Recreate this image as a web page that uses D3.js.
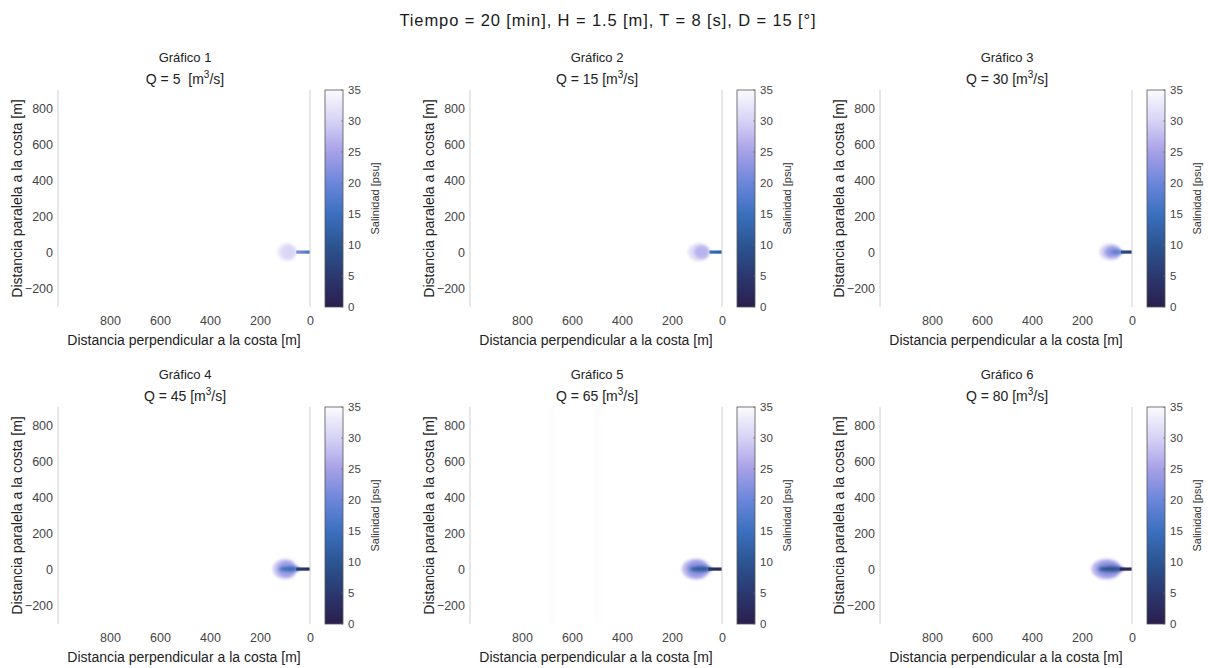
<!DOCTYPE html>
<html><head><meta charset="utf-8">
<script src="https://cdn.jsdelivr.net/npm/d3@7"></script>
<style>
body{margin:0;background:#fff;}
svg{font-family:"Liberation Sans",Arial,sans-serif;}
</style></head><body>
<svg id="c" width="1208" height="668"></svg>
<script>
// ---- data ----
const mainTitle = "Tiempo = 20 [min], H = 1.5 [m], T = 8 [s], D = 15 [°]";
const panelNames = ["Gráfico 1","Gráfico 2","Gráfico 3","Gráfico 4","Gráfico 5","Gráfico 6"];
const caudales = [5, 15, 30, 45, 65, 80];
const qSpacing = ["\u00a0\u00a0", " ", " ", " ", " ", " "];
const xTicks = [800, 600, 400, 200, 0];
const yTicks = [-200, 0, 200, 400, 600, 800];
const cbTicks = [0, 5, 10, 15, 20, 25, 30, 35];
const xDomain = [1008, 0];
const yDomain = [-305, 900];
const salDomain = [0, 35];
// colormap stops (salinity, colour)
const cmapSal = [0, 5, 10, 15, 20, 25, 30, 35];
const cmapCol = ["#2a1e4d", "#2b386f", "#2c5592", "#3b70bf", "#6b86da", "#a6a0e7", "#d6d2f5", "#fbfbfe"];
// plume ellipses per panel: [cx, rx, ry, salinity]  (data units, m)
const plumeBlobs = [
  [[92, 38, 50, 32.3], [86, 28, 36, 30.5]],
  [[92, 44, 50, 31.3], [82, 30, 36, 27]],
  [[86, 44, 46, 30], [78, 32, 32, 24], [62, 26, 12, 18]],
  [[100, 48, 56, 28.5], [94, 36, 42, 24], [80, 42, 14, 14]],
  [[104, 56, 58, 27.5], [100, 42, 44, 23], [84, 46, 15, 11]],
  [[102, 60, 56, 27], [96, 46, 42, 22.5], [82, 52, 15, 9]]
];
// jet from shore (x=0) to jetEnd, salinity at end and at shore
const jetEnd = [55, 50, 45, 55, 55, 50];
const jetSalEnd = [22, 15, 9, 6, 4, 3];
const jetSalShore = [16, 11, 6, 3, 2, 1];
// faint streaks seen in panel 5: [xLeft, xRight, salinity]
const streaks5 = [[690, 670, 34.6], [505, 490, 34.5]];

// ---- layout ----
const svg = d3.select("#c");
const colOff = [0, 412, 822];
const rowOff = [0, 317];
const P = {left: 58, right: 310, top: 90, bottom: 307, cbL: 325, cbR: 343};
const FONT = "Liberation Sans, Arial, sans-serif";

const cScale = d3.scaleLinear().domain(cmapSal).range(cmapCol).interpolate(d3.interpolateRgb).clamp(true);

svg.append("text").attr("x", 608).attr("y", 26).attr("text-anchor", "middle")
  .attr("font-size", 16.5).attr("letter-spacing", 0.9).attr("fill", "#1a1a1a").text(mainTitle);

const defs = svg.append("defs");
defs.append("filter").attr("id", "blur").attr("x", "-50%").attr("y", "-50%").attr("width", "200%").attr("height", "200%")
  .append("feGaussianBlur").attr("stdDeviation", 1.8);
defs.append("filter").attr("id", "blur2").attr("x", "-50%").attr("y", "-50%").attr("width", "200%").attr("height", "200%")
  .append("feGaussianBlur").attr("stdDeviation", 0.6);
// colorbar gradient
const grad = defs.append("linearGradient").attr("id", "cbgrad").attr("x1", 0).attr("y1", 1).attr("x2", 0).attr("y2", 0);
cmapSal.forEach((s, i) => grad.append("stop").attr("offset", s / 35).attr("stop-color", cmapCol[i]));

panelNames.forEach((name, i) => {
  const ox = colOff[i % 3], oy = rowOff[Math.floor(i / 3)];
  const g = svg.append("g").attr("transform", `translate(${ox},${oy})`);
  const x = d3.scaleLinear().domain(xDomain).range([P.left, P.right]);
  const y = d3.scaleLinear().domain(yDomain).range([P.bottom, P.top]);
  const cx = (P.left + P.right) / 2 + 1;

  g.append("text").attr("x", cx).attr("y", 62).attr("text-anchor", "middle").attr("font-size", 13).attr("fill", "#222").text(name);
  const qt = g.append("text").attr("x", cx).attr("y", 84).attr("text-anchor", "middle").attr("font-size", 14).attr("fill", "#222");
  qt.append("tspan").text(`Q = ${caudales[i]}${qSpacing[i]}[m`);
  qt.append("tspan").attr("dy", -6).attr("font-size", 10).text("3");
  qt.append("tspan").attr("dy", 6).text("/s]");

  // plot clip
  const clipId = "clip" + i;
  defs.append("clipPath").attr("id", clipId).append("rect")
    .attr("x", P.left).attr("y", P.top).attr("width", P.right - P.left).attr("height", P.bottom - P.top);
  const plot = g.append("g").attr("clip-path", `url(#${clipId})`);

  if (i === 4) {
    plot.selectAll("rect.streak").data(streaks5).join("rect").attr("class", "streak")
      .attr("x", d => x(d[0])).attr("width", d => x(d[1]) - x(d[0]))
      .attr("y", P.top).attr("height", P.bottom - P.top)
      .attr("fill", d => cScale(d[2])).attr("opacity", 0.5).attr("filter", "url(#blur)");
  }

  plot.selectAll("ellipse").data(plumeBlobs[i]).join("ellipse")
    .attr("cx", d => x(d[0])).attr("cy", y(0))
    .attr("rx", d => x(d[0] - d[1]) - x(d[0]))
    .attr("ry", d => y(0) - y(d[2]))
    .attr("fill", d => cScale(d[3]))
    .attr("filter", "url(#blur)");

  const jg = defs.append("linearGradient").attr("id", "jet" + i).attr("x1", 0).attr("x2", 1).attr("y1", 0).attr("y2", 0);
  jg.append("stop").attr("offset", 0).attr("stop-color", cScale(jetSalEnd[i]));
  jg.append("stop").attr("offset", 1).attr("stop-color", cScale(jetSalShore[i]));
  plot.append("rect").attr("x", x(jetEnd[i])).attr("width", x(0) - x(jetEnd[i]))
    .attr("y", y(9)).attr("height", y(-9) - y(9))
    .attr("fill", `url(#jet${i})`).attr("filter", "url(#blur2)");

  // axes lines
  g.append("line").attr("x1", P.left).attr("x2", P.left).attr("y1", P.top).attr("y2", P.bottom)
    .attr("stroke", "#d0d0d0").attr("stroke-width", 1);
  g.append("line").attr("x1", x(0)).attr("x2", x(0)).attr("y1", P.top).attr("y2", P.bottom)
    .attr("stroke", "#cfcfcf").attr("stroke-width", 1);

  const yAx = g.append("g").attr("transform", `translate(${P.left - 1},0)`)
    .call(d3.axisLeft(y).tickValues(yTicks).tickSize(0).tickPadding(4));
  yAx.select(".domain").remove();
  yAx.selectAll("text").attr("font-size", 12.5).attr("fill", "#444").attr("font-family", FONT);

  const xAx = g.append("g").attr("transform", `translate(0,${P.bottom + 6})`)
    .call(d3.axisBottom(x).tickValues(xTicks).tickSize(0).tickPadding(3));
  xAx.select(".domain").remove();
  xAx.selectAll("text").attr("font-size", 12.5).attr("fill", "#444").attr("font-family", FONT);

  g.append("text").attr("x", 184).attr("y", 345).attr("text-anchor", "middle").attr("font-size", 14)
    .attr("fill", "#222").text("Distancia perpendicular a la costa [m]");
  g.append("text").attr("transform", `translate(22,${(P.top + P.bottom) / 2}) rotate(-90)`)
    .attr("text-anchor", "middle").attr("font-size", 14).attr("fill", "#222").text("Distancia paralela a la costa [m]");

  // colorbar
  const cb = d3.scaleLinear().domain(salDomain).range([P.bottom, P.top]);
  g.append("rect").attr("x", P.cbL).attr("y", P.top).attr("width", P.cbR - P.cbL).attr("height", P.bottom - P.top)
    .attr("fill", "url(#cbgrad)").attr("stroke", "#555").attr("stroke-width", 0.8);
  g.selectAll("line.cbt").data(cbTicks).join("line").attr("class", "cbt")
    .attr("x1", P.cbR - 2).attr("x2", P.cbR).attr("y1", d => cb(d)).attr("y2", d => cb(d))
    .attr("stroke", "#666").attr("stroke-width", 0.6);
  const cbAx = g.append("g").attr("transform", `translate(${P.cbR},0)`)
    .call(d3.axisRight(cb).tickValues(cbTicks).tickSize(0).tickPadding(5));
  cbAx.select(".domain").remove();
  cbAx.selectAll("text").attr("font-size", 11.5).attr("fill", "#444").attr("font-family", FONT);
  g.append("text").attr("transform", `translate(379,${(P.top + P.bottom) / 2}) rotate(-90)`)
    .attr("text-anchor", "middle").attr("font-size", 11).attr("fill", "#333").text("Salinidad [psu]");
});
</script>
</body></html>
